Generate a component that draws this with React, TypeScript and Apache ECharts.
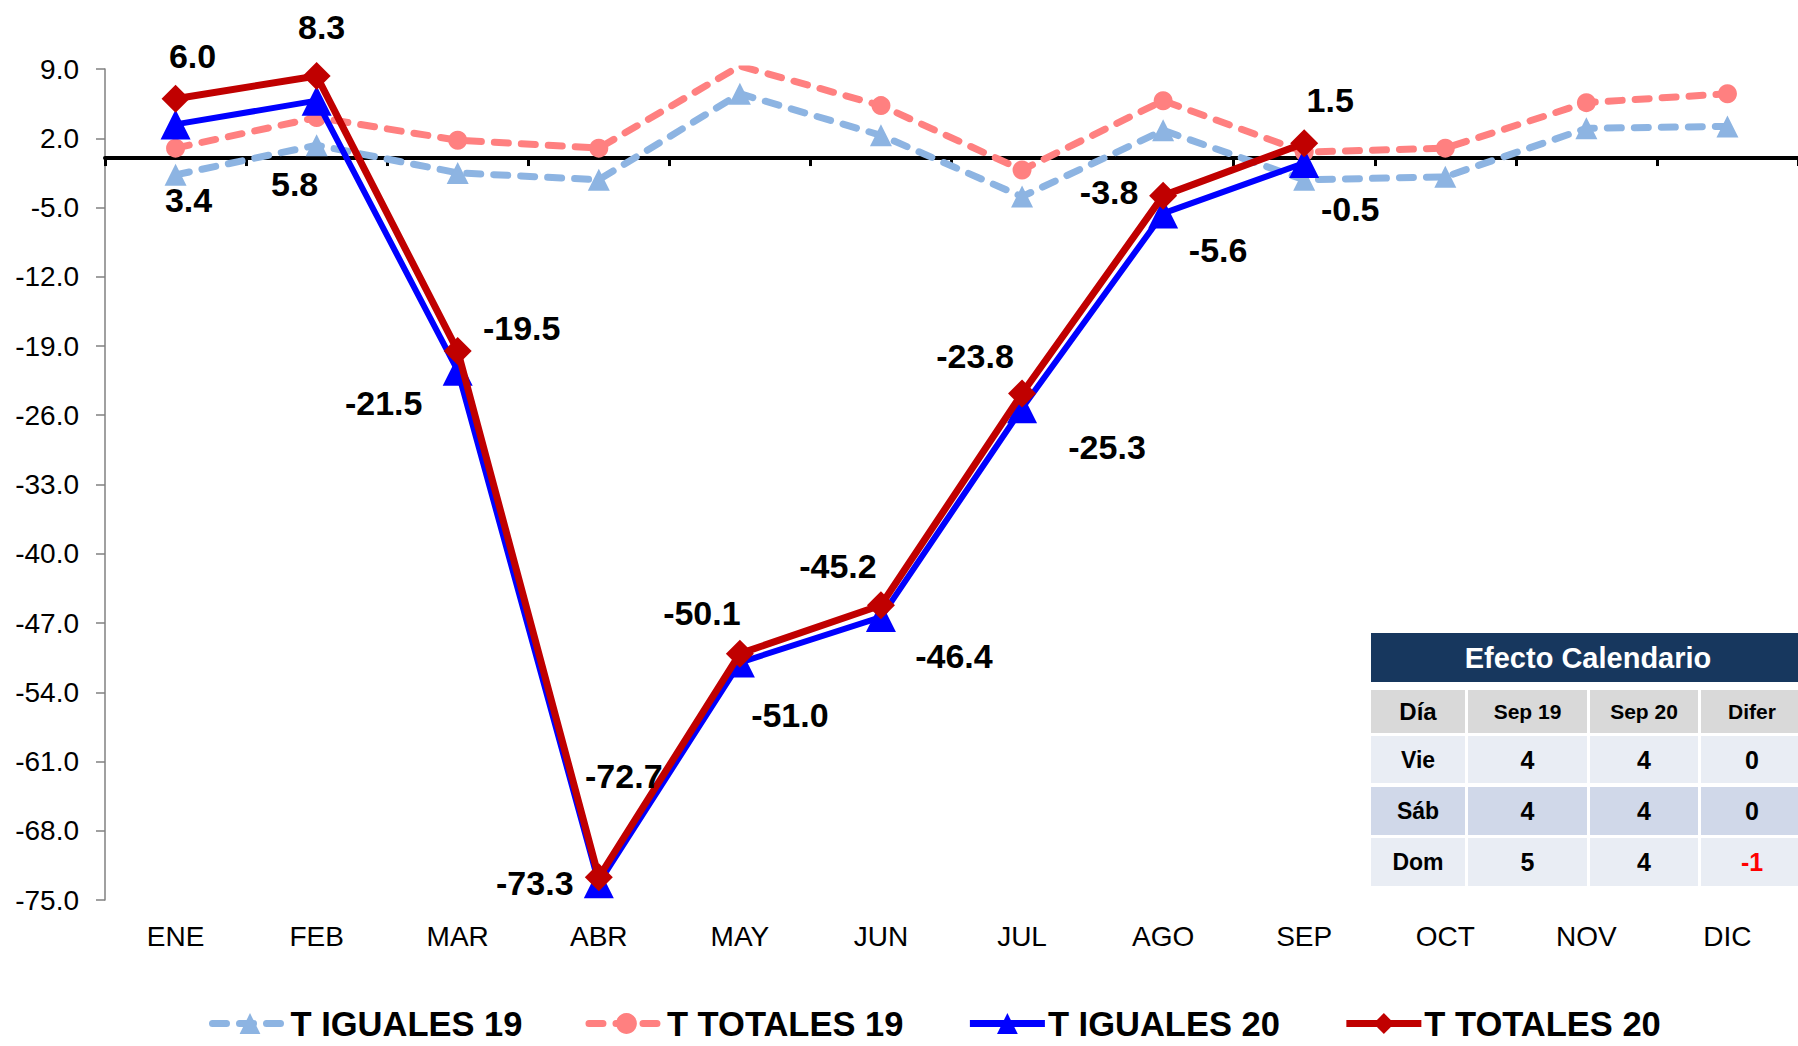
import React, { useEffect, useRef } from "react";
import * as echarts from "echarts";

const months = ["ENE", "FEB", "MAR", "ABR", "MAY", "JUN", "JUL", "AGO", "SEP", "OCT", "NOV", "DIC"];
const iguales19 = [-1.7, 1.3, -1.5, -2.2, 6.5, 2.3, -3.9, 2.8, -2.2, -1.9, 3.0, 3.2];
const totales19 = [1.0, 4.1, 1.8, 1.0, 9.3, 5.3, -1.2, 5.8, 0.6, 1.0, 5.6, 6.5];
const iguales20 = [3.4, 5.8, -21.5, -73.3, -51.0, -46.4, -25.3, -5.6, -0.5, null, null, null];
const totales20 = [6.0, 8.3, -19.5, -72.7, -50.1, -45.2, -23.8, -3.8, 1.5, null, null, null];
const yTicks = [-75, -68, -61, -54, -47, -40, -33, -26, -19, -12, -5, 2, 9];
const seriesNames = ["T IGUALES 19", "T TOTALES 19", "T IGUALES 20", "T TOTALES 20"];

const tableTitle = "Efecto Calendario";
const tableHeader = ["Día", "Sep 19", "Sep 20", "Difer"];
const tableRows: (string | number)[][] = [
  ["Vie", 4, 4, 0],
  ["Sáb", 4, 4, 0],
  ["Dom", 5, 4, -1],
];

// label placement (layout only)
const redOffsets = [[17, -43], [5, -49], [64, -23], [25, -101], [-38, -41], [-43, -39], [-47, -37], [-54, -4], [26, -43]];
const blueOffsets = [[13, 76], [-22, 83], [-74, 32], [-64, 0], [50, 52], [73, 39], [85, 39], [55, 37], [46, 46]];

const FONT = "'Liberation Sans', Arial, sans-serif";

function buildTable() {
  const els: any[] = [];
  const colX = [1371, 1468, 1590, 1701];
  const colW = [94, 119, 108, 110];
  const rowY = [690, 736, 787, 838];
  const rowH = [43, 47, 48, 48];
  const rowFill = ["#D9D9D9", "#E9EDF4", "#D0D8E9", "#E9EDF4"];
  els.push({
    type: "rect",
    shape: { x: 1371, y: 633, width: 440, height: 49 },
    style: { fill: "#17375E" },
  });
  els.push({
    type: "text",
    x: 1588,
    y: 658,
    style: { text: tableTitle, fill: "#fff", font: `bold 29px ${FONT}`, align: "center", verticalAlign: "middle" },
  });
  const allRows = [tableHeader, ...tableRows];
  allRows.forEach((row, ri) => {
    row.forEach((cell, ci) => {
      els.push({
        type: "rect",
        shape: { x: colX[ci], y: rowY[ri], width: colW[ci], height: rowH[ri] },
        style: { fill: rowFill[ri] },
      });
      let size = 23;
      if (ri === 0) size = ci === 0 ? 24 : 21;
      else if (ci > 0) size = 25;
      const isNeg = typeof cell === "number" && cell < 0;
      els.push({
        type: "text",
        x: colX[ci] + colW[ci] / 2 - (ci === 3 ? 4 : 0),
        y: rowY[ri] + rowH[ri] / 2,
        style: {
          text: String(cell),
          fill: isNeg ? "#FF0000" : "#000",
          font: `bold ${size}px ${FONT}`,
          align: "center",
          verticalAlign: "middle",
        },
      });
    });
  });
  return els;
}

function labeled(values: (number | null)[], offsets: number[][]) {
  return values.map((v, i) =>
    v === null
      ? null
      : { value: v, label: { offset: offsets[i] } }
  );
}

export default function App() {
  const ref = useRef<HTMLDivElement>(null);
  useEffect(() => {
    if (!ref.current) return;
    const chart = echarts.init(ref.current, null, { renderer: "svg" });
    const labelStyle = {
      show: true,
      position: "inside",
      color: "#000",
      fontFamily: FONT,
      fontWeight: "bold",
      fontSize: 34,
      formatter: (p: any) => Number(p.value).toFixed(1),
    };
    chart.setOption({
      animation: false,
      backgroundColor: "#fff",
      grid: { left: 105, right: 0, top: 69, bottom: 146, containLabel: false },
      legend: {
        left: 209,
        top: 1006,
        padding: 0,
        itemWidth: 75,
        itemHeight: 26,
        itemGap: 63,
        data: seriesNames,
        lineStyle: { width: 7 },
        textStyle: { fontFamily: FONT, fontWeight: "bold", fontSize: 34.5, color: "#000", lineHeight: 32, padding: [0, 0, 0, -2] },
      },
      xAxis: [
        {
          type: "category",
          data: months,
          boundaryGap: true,
          axisLine: { show: true, onZero: true, lineStyle: { color: "#000", width: 4 } },
          axisTick: { show: true, interval: 0, length: 8, lineStyle: { color: "#000", width: 3 } },
          axisLabel: { show: false },
          splitLine: { show: false },
        },
        {
          type: "category",
          data: months,
          position: "bottom",
          boundaryGap: true,
          axisLine: { show: false, onZero: false },
          axisTick: { show: false },
          axisLabel: { show: true, interval: 0, margin: 22, color: "#000", fontFamily: FONT, fontSize: 28 },
          splitLine: { show: false },
        },
      ],
      yAxis: {
        type: "value",
        min: -75,
        max: 9,
        splitLine: { show: false },
        axisLine: { show: true, lineStyle: { color: "#808080", width: 1.5 } },
        axisTick: { show: true, length: 9, customValues: yTicks, lineStyle: { color: "#808080", width: 1.5 } },
        axisLabel: {
          show: true,
          customValues: yTicks,
          margin: 26,
          color: "#000",
          fontFamily: FONT,
          fontSize: 28,
          formatter: (v: number) => v.toFixed(1),
        },
      },
      series: [
        {
          name: seriesNames[0],
          type: "line",
          data: iguales19,
          symbol: "triangle",
          symbolSize: 22,
          itemStyle: { color: "#8DB4E2" },
          lineStyle: { color: "#8DB4E2", width: 7, type: [14, 13], cap: "round" },
          z: 2,
        },
        {
          name: seriesNames[1],
          type: "line",
          data: totales19,
          symbol: "circle",
          symbolSize: 19,
          itemStyle: { color: "#FF8080" },
          lineStyle: { color: "#FF8080", width: 7, type: [14, 13], cap: "round" },
          z: 3,
        },
        {
          name: seriesNames[2],
          type: "line",
          data: labeled(iguales20, blueOffsets),
          symbol: "triangle",
          symbolSize: 30,
          itemStyle: { color: "#0000FF" },
          lineStyle: { color: "#0000FF", width: 6 },
          label: labelStyle,
          z: 4,
        },
        {
          name: seriesNames[3],
          type: "line",
          data: labeled(totales20, redOffsets),
          symbol: "diamond",
          symbolSize: 28,
          itemStyle: { color: "#C00000" },
          lineStyle: { color: "#C00000", width: 7 },
          label: labelStyle,
          z: 5,
        },
      ],
      graphic: buildTable(),
    });
    return () => chart.dispose();
  }, []);
  return (
    <div
      ref={ref}
      style={{ position: "fixed", left: 0, top: 0, width: 1798, height: 1046, background: "#fff" }}
    />
  );
}
